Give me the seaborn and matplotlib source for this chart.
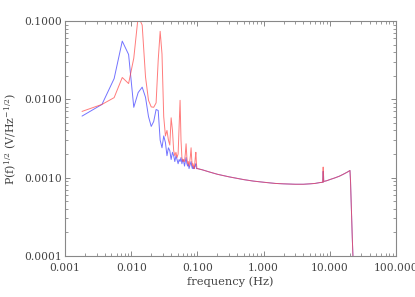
import numpy as np
import pandas as pd
import matplotlib
matplotlib.use("Agg")
import matplotlib.pyplot as plt
import matplotlib.ticker as mticker
import seaborn as sns

# frequency grid (Hz): fine low-frequency bins, then the smooth part of the spectrum
freq_low = [0.0018, 0.0036, 0.0055, 0.0073, 0.0091, 0.0109, 0.0127, 0.0146, 0.0164, 0.0182,
            0.0200, 0.0218, 0.0237, 0.0255, 0.0273, 0.0291, 0.0309, 0.0328, 0.0346, 0.0364,
            0.0382, 0.0400, 0.0419, 0.0437, 0.0455, 0.0473, 0.0491, 0.0510, 0.0528, 0.0546,
            0.0564, 0.0582, 0.0601, 0.0619, 0.0637, 0.0655, 0.0673, 0.0692, 0.0710, 0.0728,
            0.0746, 0.0764, 0.0783, 0.0801, 0.0819, 0.0837, 0.0855, 0.0874, 0.0892, 0.0910,
            0.0928, 0.0946, 0.0965, 0.0983, 0.1001]
freq_high = [0.12, 0.15, 0.2, 0.3, 0.5, 0.7, 1.0, 1.5, 2.0, 3.0, 4.0, 5.0, 6.0, 7.0,
             7.9, 7.95, 8.0, 8.05, 8.1, 9.0, 10.0, 12.0, 14.0, 16.0, 18.0, 19.0, 20.2,
             20.6, 20.9, 21.4, 21.9, 22.4, 23.0]

# amplitude spectral density, blue trace (V/Hz^-1/2)
blue_low = [0.0061, 0.0086, 0.0184, 0.0554, 0.0374, 0.0079, 0.0122, 0.0143, 0.0106, 0.0060,
            0.0045, 0.0052, 0.0074, 0.0072, 0.0030, 0.0024, 0.0034, 0.0028, 0.0019, 0.0024,
            0.0022, 0.0017, 0.0021, 0.0019, 0.0016, 0.0019, 0.0017, 0.0015, 0.0017, 0.0016,
            0.0018, 0.0015, 0.0017, 0.0016, 0.0014, 0.0016, 0.0018, 0.0015, 0.0014, 0.0015,
            0.0013, 0.0014, 0.0015, 0.0016, 0.0014, 0.0013, 0.0014, 0.0013, 0.0013, 0.0014,
            0.0014, 0.0015, 0.0013, 0.0013, 0.0013]
blue_high = [0.00125, 0.00118, 0.00110, 0.00102, 0.00094, 0.00090, 0.00087, 0.00084, 0.00083,
             0.00082, 0.00082, 0.00083, 0.00084, 0.00086, 0.00087, 0.00120, 0.00088, 0.00110,
             0.00089, 0.00091, 0.00094, 0.00099, 0.00104, 0.00110, 0.00116, 0.00119, 0.00123,
             0.00090, 0.00060, 0.00032, 0.00017, 0.00010, 0.00005]

# red trace
red_low = [0.0070, 0.0086, 0.0105, 0.0190, 0.0159, 0.0336, 0.1150, 0.0890, 0.0193, 0.0097,
           0.0080, 0.0079, 0.0090, 0.0316, 0.0740, 0.0380, 0.0060, 0.0034, 0.0040, 0.0030,
           0.0026, 0.0058, 0.0040, 0.0022, 0.0019, 0.0021, 0.0018, 0.0020, 0.0045, 0.0097,
           0.0030, 0.0018, 0.0016, 0.0017, 0.0016, 0.0020, 0.0027, 0.0018, 0.0015, 0.0016,
           0.0014, 0.0016, 0.0019, 0.0024, 0.0017, 0.0014, 0.0015, 0.0014, 0.0013, 0.0015,
           0.0018, 0.0021, 0.0015, 0.0013, 0.0013]
red_high = [0.00125, 0.00118, 0.00110, 0.00102, 0.00094, 0.00090, 0.00087, 0.00084, 0.00083,
            0.00082, 0.00082, 0.00083, 0.00084, 0.00086, 0.00087, 0.00136, 0.00088, 0.00105,
            0.00089, 0.00091, 0.00094, 0.00099, 0.00104, 0.00110, 0.00116, 0.00119, 0.00123,
            0.00090, 0.00060, 0.00032, 0.00017, 0.00010, 0.00005]

x_ticks = [0.001, 0.01, 0.1, 1, 10, 100]
x_labels = ["0.001", "0.010", "0.100", "1.000", "10.000", "100.000"]
y_ticks = [0.0001, 0.001, 0.01, 0.1]
y_labels = ["0.0001", "0.0010", "0.0100", "0.1000"]

sns.set_style("ticks")
plt.rcParams['font.family'] = ['DejaVu Serif']
plt.rcParams['mathtext.fontset'] = 'dejavuserif'
plt.rcParams['font.size'] = 7.7

blue_df = pd.DataFrame({'freq': freq_low + freq_high, 'amp': blue_low + blue_high})
red_df = pd.DataFrame({'freq': freq_low + freq_high, 'amp': red_low + red_high})

fig = plt.figure(figsize=(4.15, 2.97), dpi=100)
ax = fig.add_axes([0.157, 0.139, 0.797, 0.790])
ax.set_xscale('log')
ax.set_yscale('log')

sns.lineplot(data=blue_df, x='freq', y='amp', ax=ax, color='#4444ff', lw=0.7,
             estimator=None, sort=False, alpha=0.75)
sns.lineplot(data=red_df, x='freq', y='amp', ax=ax, color='#ff4444', lw=0.7,
             estimator=None, sort=False, alpha=0.7)

ax.set_xlim(0.001, 100)
ax.set_ylim(0.0001, 0.1)
ax.xaxis.set_major_locator(mticker.FixedLocator(x_ticks))
ax.xaxis.set_major_formatter(mticker.FixedFormatter(x_labels))
ax.yaxis.set_major_locator(mticker.FixedLocator(y_ticks))
ax.yaxis.set_major_formatter(mticker.FixedFormatter(y_labels))
ax.xaxis.set_minor_locator(mticker.LogLocator(base=10, subs=np.arange(2, 10)))
ax.yaxis.set_minor_locator(mticker.LogLocator(base=10, subs=np.arange(2, 10)))
ax.xaxis.set_minor_formatter(mticker.NullFormatter())
ax.yaxis.set_minor_formatter(mticker.NullFormatter())

for side in ['left', 'right', 'top', 'bottom']:
    ax.spines[side].set_visible(True)
    ax.spines[side].set_color('#888888')
    ax.spines[side].set_linewidth(0.8)
ax.tick_params(which='both', direction='in', top=True, right=True, color='#888888',
               labelcolor='#444444')
ax.tick_params(which='major', length=3.5, width=0.7)
ax.tick_params(which='minor', length=2, width=0.6)
ax.tick_params(axis='x', which='major', pad=5)
ax.tick_params(axis='y', which='major', pad=2.5)

ax.set_xlabel('frequency (Hz)', color='#444444', labelpad=3, fontsize=8.2)
ax.set_ylabel('P(f)$^{1/2}$ (V/Hz$^{-1/2}$)', color='#444444', labelpad=3.5, fontsize=7.9)

fig.savefig('out.png', dpi=100)
